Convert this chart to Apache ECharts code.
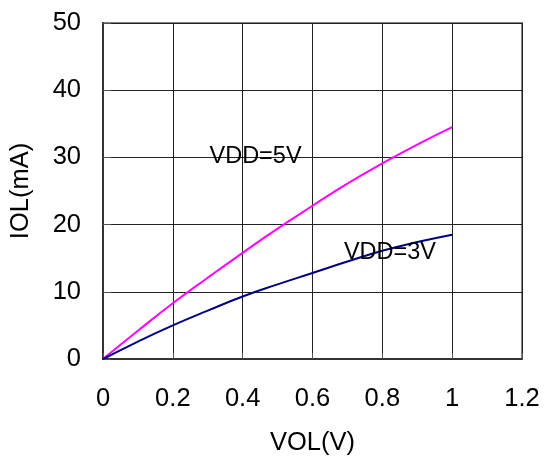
<!DOCTYPE html>
<html><head><meta charset="utf-8">
<script src="https://cdn.jsdelivr.net/npm/echarts@6/dist/echarts.min.js"></script>
<style>html,body{margin:0;padding:0;background:#fff}#c{width:544px;height:461px}</style>
</head><body><div id="c"></div>
<script>
const vol = [0, 0.1, 0.2, 0.3, 0.4, 0.5, 0.6, 0.7, 0.8, 0.9, 1.0];
const iol5V = [0, 4.2, 8.3, 12.1, 15.8, 19.4, 22.8, 26.1, 29.1, 31.9, 34.5];
const iol3V = [0, 2.6, 5.0, 7.2, 9.3, 11.1, 12.8, 14.5, 16.1, 17.4, 18.5];
const seriesNames = ['VDD=5V', 'VDD=3V'];
const labelPos5V = [0.305, 30.1];
const labelPos3V = [0.69, 15.8];

const font = 'Liberation Sans, Arial, sans-serif';
const chart = echarts.init(document.getElementById('c'), null, {renderer: 'canvas'});
function mk(name, ys, color, pos) {
  return {
    name, type: 'line', data: vol.map((x, i) => [x, ys[i]]),
    showSymbol: false, smooth: true, lineStyle: {color, width: 2}, itemStyle: {color},
    markPoint: {
      symbol: 'circle', symbolSize: 0, silent: true,
      data: [{coord: pos, value: name}],
      label: {show: true, position: 'right', distance: 0, formatter: name,
        color: '#000', fontSize: 23.5, fontFamily: font}
    }
  };
}
chart.setOption({
  animation: false,
  grid: {left: 100, top: 23, width: 422, height: 336, show: true, borderColor: '#808080', borderWidth: 2},
  xAxis: {
    type: 'value', min: 0, max: 1.2, interval: 0.2,
    name: 'VOL(V)', nameLocation: 'middle', nameGap: 71,
    nameTextStyle: {fontSize: 25.5, fontFamily: font, color: '#000'},
    axisLine: {lineStyle: {color: '#333', width: 2}},
    axisTick: {show: true, inside: true, length: 6, lineStyle: {color: '#555'}},
    axisLabel: {margin: 27, fontSize: 25.5, fontFamily: font, color: '#000',
      formatter: v => String(+v.toFixed(1))},
    splitLine: {show: true, lineStyle: {color: '#222', width: 1}}
  },
  yAxis: {
    type: 'value', min: 0, max: 50, interval: 10,
    name: 'IOL(mA)', nameLocation: 'middle', nameGap: 69,
    nameTextStyle: {fontSize: 25.5, fontFamily: font, color: '#000'},
    axisLine: {show: true, lineStyle: {color: '#333', width: 2}},
    axisTick: {show: true, inside: true, length: 8, lineStyle: {color: '#555'}},
    axisLabel: {margin: 22, fontSize: 25.5, fontFamily: font, color: '#000'},
    splitLine: {show: true, lineStyle: {color: '#222', width: 1}}
  },
  series: [mk(seriesNames[0], iol5V, '#FF00FF', labelPos5V), mk(seriesNames[1], iol3V, '#000080', labelPos3V)]
});
</script></body></html>
